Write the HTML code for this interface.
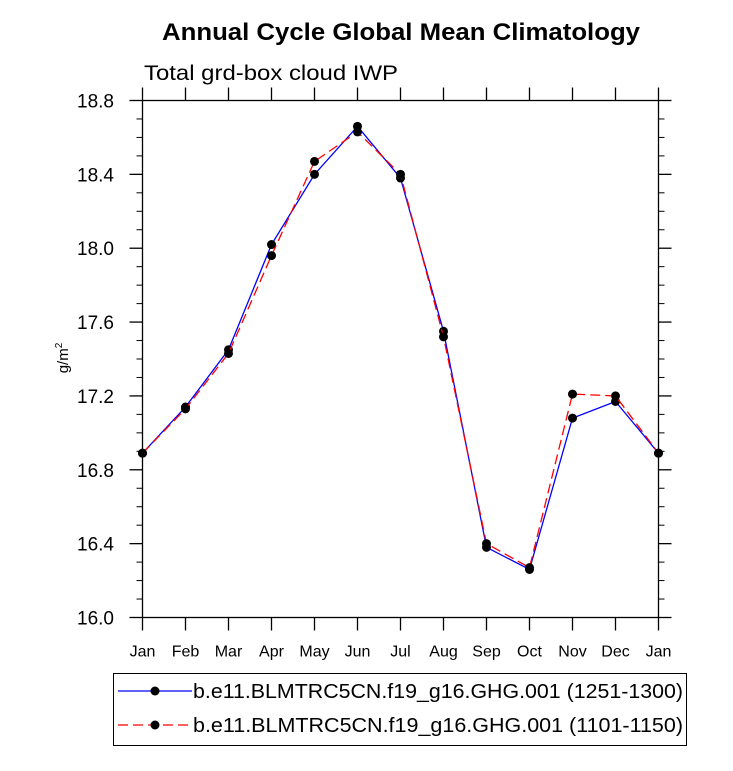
<!DOCTYPE html>
<html><head><meta charset="utf-8"><style>
body{margin:0;background:#fff;}
svg text{font-family:"Liberation Sans",Arial,sans-serif;fill:#000;}
</style></head><body>
<svg width="733" height="766" id="chart">
<text x="162" y="40" textLength="478" lengthAdjust="spacingAndGlyphs" font-size="24" font-weight="bold">Annual Cycle Global Mean Climatology</text>
<text x="144" y="80" textLength="254" lengthAdjust="spacingAndGlyphs" font-size="21">Total grd-box cloud IWP</text>
<text transform="translate(68,358) rotate(-90)" text-anchor="middle" font-size="15">g/m<tspan dy="-6" font-size="10">2</tspan></text>
<g id="axes"></g>
<g id="series"></g>
<g>
<rect x="113.5" y="673.5" width="573" height="72" fill="none" stroke="#000" stroke-width="1"/>
<line x1="118" y1="691" x2="192" y2="691" stroke="#0000ff" stroke-width="1.3"/>
<circle cx="155" cy="691" r="4.5" fill="#000"/>
<text x="193" y="698" textLength="490" lengthAdjust="spacingAndGlyphs" font-size="20">b.e11.BLMTRC5CN.f19_g16.GHG.001 (1251-1300)</text>
<line x1="118" y1="725" x2="192" y2="725" stroke="#ff0000" stroke-width="1.3" stroke-dasharray="10,5"/>
<circle cx="155" cy="725" r="4.5" fill="#000"/>
<text x="193" y="732" textLength="490" lengthAdjust="spacingAndGlyphs" font-size="20">b.e11.BLMTRC5CN.f19_g16.GHG.001 (1101-1150)</text>
</g>
</svg>
<script>
const months=["Jan","Feb","Mar","Apr","May","Jun","Jul","Aug","Sep","Oct","Nov","Dec","Jan"];
const blueVals=[16.89,17.14,17.45,18.02,18.40,18.66,18.38,17.55,16.38,16.26,17.08,17.17,16.89];
const redVals=[16.89,17.13,17.43,17.96,18.47,18.63,18.40,17.52,16.40,16.27,17.21,17.20,16.89];
const yTicks=[16.0,16.4,16.8,17.2,17.6,18.0,18.4,18.8];
const X0=142.5,X1=658.5,Y0=617.5,Y1=100.5,YMIN=16.0,YMAX=18.8;
const NS="http://www.w3.org/2000/svg";
function xs(i){return X0+(X1-X0)*i/(months.length-1);}
function ys(v){return Y0-(v-YMIN)/(YMAX-YMIN)*(Y0-Y1);}
function mk(t,a,p){const e=document.createElementNS(NS,t);for(const k in a)e.setAttribute(k,a[k]);p.appendChild(e);return e;}
const ax=document.getElementById('axes');
const frame=mk('rect',{x:X0,y:Y1,width:X1-X0,height:Y0-Y1,fill:'none',stroke:'#000','stroke-width':1.3},ax);


months.forEach((m,i)=>{const x=xs(i);
mk('line',{x1:x,y1:Y0,x2:x,y2:Y0+13,stroke:'#000','stroke-width':1.3},ax);
mk('line',{x1:x,y1:Y1,x2:x,y2:Y1-13,stroke:'#000','stroke-width':1.3},ax);
const t=mk('text',{x:x,y:Y0+39,'text-anchor':'middle','font-size':16},ax);t.textContent=m;

});
for(let v=YMIN;v<=YMAX+1e-6;v+=0.1){const y=ys(v);const major=Math.abs(Math.round(v*10)%4)==0;const L=major?13:6;
mk('line',{x1:X0,y1:y,x2:X0-L,y2:y,stroke:'#000','stroke-width':major?1.3:1},ax);
mk('line',{x1:X1,y1:y,x2:X1+L,y2:y,stroke:'#000','stroke-width':major?1.3:1},ax);}
yTicks.forEach(v=>{const t=mk('text',{x:114,y:ys(v)+7,'text-anchor':'end','font-size':19},ax);t.textContent=v.toFixed(1);

});
const sg=document.getElementById('series');
function draw(vals,color,dash,name){const pts=vals.map((v,i)=>xs(i)+','+ys(v)).join(' ');
const pl=mk('polyline',{points:pts,fill:'none',stroke:color,'stroke-width':1.3,'stroke-dasharray':dash},sg);


vals.forEach((v,i)=>{const c=mk('circle',{cx:xs(i),cy:ys(v),r:4.5,fill:'#000'},sg);

});}
draw(blueVals,'#0000ff','none','series-1251-1300');
draw(redVals,'#ff0000','10,5','series-1101-1150');
</script>
</body></html>
